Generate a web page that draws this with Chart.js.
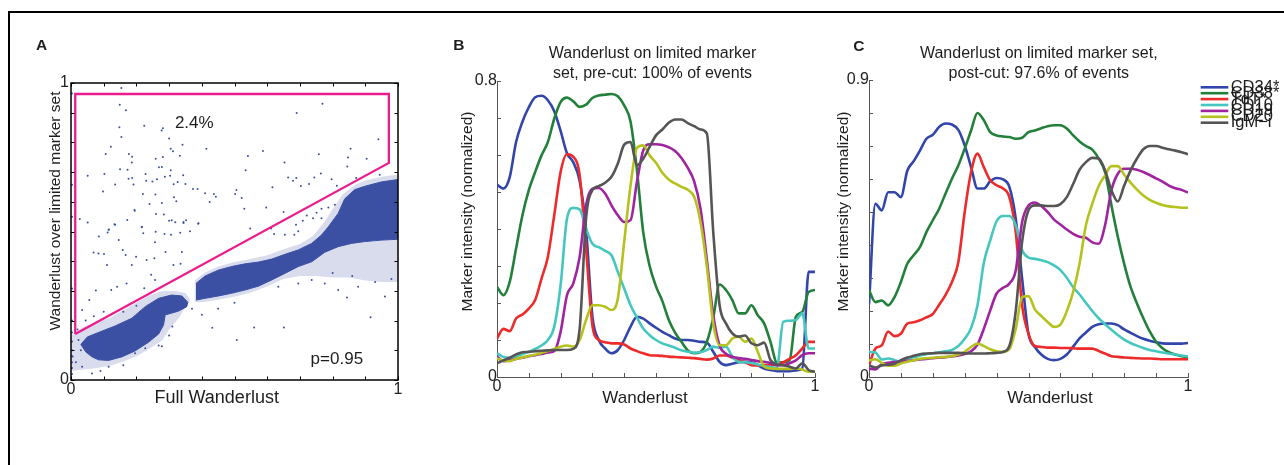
<!DOCTYPE html>
<html>
<head>
<meta charset="utf-8">
<title>Wanderlust on a limited marker set</title>
<script src="https://cdn.jsdelivr.net/npm/chart.js@4.4.1/dist/chart.umd.min.js"></script>
<style>
  html, body { margin: 0; padding: 0; background: #fff; overflow: hidden; }
  body { width: 1284px; height: 465px; position: relative; }
  #frame { position: absolute; left: 8px; top: 11px; width: 1400px; height: 600px;
           border-top: 2px solid #000; border-left: 2px solid #000; }
  canvas { position: absolute; top: 0; }
</style>
</head>
<body>
<div id="frame"></div>
<canvas id="panelA" width="430" height="420" style="left:0px"></canvas>
<canvas id="panelB" width="400" height="420" style="left:440px"></canvas>
<canvas id="panelC" width="454" height="420" style="left:830px"></canvas>
<script>
const FONT = '"Liberation Sans", Arial, Helvetica, sans-serif';
Chart.defaults.font.family = FONT;
Chart.defaults.font.size = 16;
Chart.defaults.color = '#222';

// ---- panel A: full vs limited-marker wanderlust ----
const gate = [[0.013,0.155],[0.013,0.963],[0.972,0.963],[0.972,0.731],[0.013,0.155]];

const sparseDots = [
  [0.154,0.983],[0.149,0.927],[0.168,0.908],[0.224,0.856],[0.148,0.851],[0.281,0.848],[0.277,0.84],
  [0.154,0.818],[0.30,0.813],[0.122,0.785],[0.341,0.792],[0.414,0.779],[0.305,0.779],[0.312,0.77],
  [0.106,0.761],[0.177,0.761],[0.187,0.752],[0.259,0.745],[0.333,0.755],[0.281,0.751],[0.186,0.732],
  [0.15,0.71],[0.173,0.708],[0.269,0.716],[0.278,0.717],[0.305,0.706],[0.051,0.688],[0.102,0.694],
  [0.228,0.694],[0.287,0.684],[0.303,0.688],[0.343,0.689],[0.176,0.678],[0.187,0.68],[0.23,0.671],
  [0.249,0.668],[0.263,0.676],[0.191,0.658],[0.135,0.658],[0.314,0.659],[0.326,0.667],[0.35,0.66],
  [0.098,0.635],[0.22,0.626],[0.258,0.625],[0.315,0.615],[0.373,0.643],[0.387,0.643],[0.41,0.629],
  [0.437,0.626],[0.443,0.617],[0.424,0.599],[0.24,0.593],[0.278,0.596],[0.322,0.602],[0.194,0.572],
  [0.26,0.559],[0.284,0.557],[0.30,0.536],[0.319,0.531],[0.344,0.529],[0.352,0.538],[0.39,0.528],
  [0.172,0.539],[0.135,0.523],[0.027,0.542],[0.051,0.53],[0.115,0.506],[0.112,0.497],[0.216,0.514],
  [0.259,0.499],[0.306,0.489],[0.334,0.496],[0.364,0.501],
  [0.69,0.899],[0.769,0.93],[0.94,0.811],[0.587,0.771],[0.541,0.754],[0.534,0.706],[0.653,0.732],
  [0.758,0.76],[0.855,0.779],[0.847,0.749],[0.904,0.745],[0.845,0.719],[0.764,0.695],[0.664,0.682],
  [0.689,0.68],[0.679,0.671],[0.744,0.682],[0.797,0.676],[0.872,0.68],[0.944,0.691],[0.616,0.649],
  [0.703,0.653],[0.728,0.66],[0.813,0.654],[0.502,0.626],[0.506,0.64],[0.522,0.613],[0.53,0.577],
  [0.597,0.581],[0.65,0.566],[0.721,0.554],[0.751,0.563],[0.766,0.577],[0.787,0.581],[0.807,0.59],
  [0.766,0.545],[0.74,0.545],[0.709,0.536],[0.688,0.523],[0.612,0.51],[0.621,0.492],[0.548,0.51],
  [0.654,0.489],[0.683,0.489],[0.695,0.501],
  [0.133,0.524],[0.085,0.483],[0.116,0.507],[0.195,0.57],[0.217,0.516],[0.221,0.494],[0.286,0.492],
  [0.308,0.538],[0.344,0.532],[0.389,0.526],[0.257,0.464],[0.289,0.431],[0.339,0.431],[0.069,0.429],
  [0.084,0.426],[0.101,0.424],[0.146,0.471],[0.158,0.438],[0.167,0.421],[0.199,0.415],[0.231,0.404],
  [0.255,0.41],[0.313,0.387],[0.335,0.391],[0.186,0.387],[0.11,0.387],[0.076,0.301],[0.056,0.269],
  [0.034,0.236],[0.245,0.354],[0.257,0.337],[0.224,0.309],[0.17,0.325],[0.141,0.314],[0.123,0.303],
  [0.432,0.176],[0.507,0.135],[0.56,0.177],[0.651,0.177],[0.844,0.278],[0.916,0.211],[0.023,0.135],
  [0.005,0.079],[0.034,0.045],[0.064,0.022],[0.115,0.045],[0.196,0.09],[0.227,0.107],[0.268,0.116],
  [0.278,0.114],
  [0.003,0.965],[0.003,0.657],[0.003,0.55],[0.003,0.308],[0.003,0.2],[0.003,0.16],[0.003,0.13],
  [0.003,0.1],[0.003,0.08],[0.003,0.06],[0.003,0.04],[0.003,0.02],
  [0.695,0.325],[0.776,0.325],[0.817,0.303],[0.878,0.314],[0.736,0.337],[0.634,0.314],[0.96,0.281],
  [0.6,0.35],[0.45,0.24],[0.5,0.26],[0.4,0.22],[0.37,0.24],
  [0.02,0.17],[0.045,0.2],[0.07,0.215],[0.1,0.23],[0.03,0.1],[0.015,0.06],[0.09,0.03],[0.16,0.05],
  [0.3,0.15],[0.31,0.18],[0.2,0.25],[0.16,0.23],[0.8,0.36],[0.86,0.35],[0.93,0.33],[0.98,0.34]
];

// dense clouds: outline of the solid part and of the looser halo round it
const earlyCoreTop = [[0.03,0.12],[0.05,0.145],[0.084,0.16],[0.135,0.182],[0.186,0.208],[0.227,0.247],[0.268,0.275],[0.308,0.286],[0.339,0.283],[0.357,0.262]];
const earlyCoreBottom = [[0.03,0.12],[0.045,0.095],[0.064,0.078],[0.084,0.068],[0.115,0.066],[0.156,0.078],[0.196,0.098],[0.237,0.127],[0.268,0.155],[0.283,0.185],[0.288,0.219],[0.329,0.232],[0.354,0.247],[0.357,0.262]];
const lateCoreTop = [[0.382,0.325],[0.41,0.35],[0.451,0.37],[0.491,0.382],[0.532,0.391],[0.573,0.397],[0.614,0.407],[0.654,0.423],[0.695,0.438],[0.736,0.46],[0.766,0.488],[0.787,0.516],[0.817,0.561],[0.837,0.61],[0.868,0.641],[0.898,0.652],[0.949,0.667],[1.0,0.675]];
const lateCoreBottom = [[0.382,0.269],[0.41,0.275],[0.451,0.283],[0.491,0.292],[0.532,0.303],[0.573,0.316],[0.614,0.337],[0.654,0.359],[0.695,0.382],[0.736,0.398],[0.776,0.43],[0.817,0.449],[0.858,0.46],[0.898,0.466],[0.949,0.471],[1.0,0.474]];
const earlyHaloTop = [[0.0,0.15],[0.04,0.18],[0.08,0.195],[0.12,0.21],[0.16,0.235],[0.2,0.26],[0.24,0.285],[0.28,0.3],[0.32,0.3],[0.35,0.293],[0.365,0.27]];
const earlyHaloBottom = [[0.0,0.03],[0.04,0.035],[0.08,0.04],[0.12,0.048],[0.16,0.062],[0.2,0.08],[0.24,0.105],[0.28,0.135],[0.3,0.17],[0.33,0.21],[0.365,0.27]];
const lateHaloTop = [[0.378,0.335],[0.41,0.362],[0.45,0.382],[0.5,0.397],[0.55,0.407],[0.6,0.42],[0.65,0.44],[0.7,0.458],[0.74,0.485],[0.77,0.525],[0.8,0.575],[0.83,0.625],[0.87,0.658],[0.9,0.672],[0.95,0.684],[1.0,0.692]];
const lateHaloBottom = [[0.378,0.262],[0.4,0.262],[0.45,0.27],[0.5,0.28],[0.55,0.295],[0.6,0.315],[0.65,0.34],[0.7,0.35],[0.75,0.35],[0.8,0.345],[0.85,0.345],[0.9,0.335],[0.95,0.33],[1.0,0.33]];

// ---- panels B and C: marker trends along wanderlust ----
const wx = [0,0.02,0.04,0.06,0.08,0.1,0.12,0.14,0.16,0.18,0.2,0.22,0.24,0.26,0.28,0.3,0.32,0.34,0.36,0.38,
  0.4,0.42,0.44,0.46,0.48,0.5,0.52,0.54,0.56,0.58,0.6,0.62,0.64,0.66,0.68,0.7,0.72,0.74,0.76,0.78,
  0.8,0.82,0.84,0.86,0.88,0.9,0.92,0.94,0.96,0.98,1];

const markers = ['CD34*', 'CD38*', 'TdT*', 'CD10', 'CD19', 'CD20', 'IgM\u2212i'];
const markerColors = ['#3145ab', '#23803a', '#ee2a2a', '#45c7bf', '#a023a0', '#b5c21e', '#555555'];

const preCD34 = [0.52,0.509,0.54,0.635,0.69,0.729,0.756,0.76,0.748,0.718,0.665,0.605,0.58,0.53,0.40,0.163,0.10,0.077,0.064,0.073,0.10,0.136,0.163,0.158,0.145,0.133,0.122,0.113,0.104,0.10,0.10,0.098,0.095,0.093,0.068,0.041,0.032,0.036,0.04,0.041,0.04,0.032,0.023,0.019,0.016,0.016,0.016,0.018,0.023,0.284,0.284];
const preCD38 = [0.244,0.221,0.257,0.347,0.437,0.505,0.554,0.599,0.635,0.698,0.743,0.755,0.745,0.73,0.736,0.754,0.761,0.763,0.765,0.759,0.734,0.69,0.56,0.39,0.30,0.245,0.205,0.155,0.12,0.095,0.072,0.064,0.068,0.095,0.16,0.25,0.235,0.208,0.172,0.172,0.194,0.167,0.145,0.095,0.04,0.04,0.045,0.163,0.176,0.23,0.235];
const preTdT = [0.104,0.13,0.124,0.158,0.169,0.185,0.208,0.266,0.325,0.437,0.554,0.602,0.595,0.545,0.347,0.14,0.10,0.094,0.091,0.091,0.088,0.077,0.07,0.064,0.059,0.058,0.057,0.055,0.054,0.053,0.052,0.051,0.049,0.047,0.05,0.058,0.058,0.052,0.046,0.04,0.032,0.031,0.032,0.032,0.034,0.04,0.049,0.059,0.077,0.095,0.095];
const preCD10 = [0.064,0.054,0.052,0.055,0.062,0.068,0.076,0.085,0.10,0.136,0.248,0.428,0.457,0.453,0.401,0.36,0.351,0.341,0.329,0.284,0.239,0.194,0.161,0.131,0.113,0.10,0.091,0.085,0.079,0.072,0.068,0.066,0.067,0.073,0.082,0.079,0.082,0.055,0.041,0.04,0.038,0.034,0.03,0.027,0.025,0.149,0.152,0.154,0.172,0.077,0.077];
const preCD19 = [0.055,0.043,0.045,0.049,0.052,0.056,0.059,0.062,0.066,0.07,0.122,0.221,0.253,0.325,0.464,0.509,0.511,0.496,0.464,0.437,0.419,0.424,0.527,0.613,0.629,0.629,0.627,0.621,0.611,0.592,0.565,0.529,0.455,0.316,0.167,0.085,0.063,0.055,0.051,0.049,0.046,0.043,0.041,0.038,0.032,0.032,0.037,0.045,0.059,0.064,0.064];
const preCD20 = [0.05,0.044,0.043,0.049,0.053,0.057,0.06,0.065,0.07,0.076,0.082,0.085,0.082,0.10,0.154,0.194,0.194,0.19,0.181,0.212,0.365,0.518,0.619,0.626,0.599,0.579,0.552,0.534,0.523,0.514,0.506,0.487,0.419,0.298,0.145,0.086,0.086,0.104,0.109,0.095,0.104,0.068,0.028,0.023,0.022,0.022,0.022,0.023,0.02,0.014,0.014];
const preIgM = [0.037,0.045,0.052,0.061,0.067,0.068,0.07,0.071,0.072,0.073,0.073,0.073,0.076,0.131,0.428,0.505,0.516,0.525,0.541,0.577,0.628,0.635,0.572,0.59,0.622,0.653,0.669,0.687,0.696,0.696,0.686,0.678,0.669,0.658,0.392,0.194,0.145,0.118,0.109,0.112,0.091,0.086,0.093,0.046,0.034,0.032,0.028,0.023,0.037,0.019,0.014];

const postCD34 = [0.22,0.525,0.505,0.56,0.56,0.545,0.625,0.654,0.687,0.722,0.734,0.758,0.768,0.765,0.749,0.702,0.636,0.571,0.571,0.593,0.603,0.599,0.576,0.48,0.298,0.13,0.091,0.068,0.055,0.051,0.055,0.068,0.092,0.117,0.135,0.152,0.16,0.162,0.162,0.157,0.144,0.134,0.124,0.116,0.11,0.105,0.102,0.101,0.101,0.101,0.103];
const postCD38 = [0.263,0.227,0.232,0.217,0.242,0.288,0.343,0.369,0.394,0.439,0.475,0.51,0.556,0.601,0.641,0.692,0.747,0.80,0.778,0.742,0.732,0.729,0.727,0.722,0.725,0.742,0.747,0.754,0.76,0.763,0.763,0.753,0.732,0.714,0.70,0.689,0.662,0.621,0.52,0.425,0.343,0.273,0.223,0.178,0.138,0.107,0.087,0.075,0.068,0.063,0.061];
const postTdT = [0.035,0.086,0.096,0.138,0.124,0.131,0.162,0.166,0.172,0.181,0.191,0.219,0.249,0.288,0.348,0.50,0.621,0.677,0.636,0.596,0.581,0.571,0.545,0.439,0.217,0.131,0.094,0.091,0.089,0.089,0.088,0.088,0.087,0.086,0.086,0.086,0.079,0.071,0.063,0.061,0.059,0.058,0.057,0.056,0.056,0.055,0.054,0.054,0.054,0.054,0.054];
const postCD10 = [0.076,0.074,0.053,0.056,0.051,0.045,0.056,0.06,0.065,0.069,0.072,0.075,0.078,0.082,0.094,0.116,0.148,0.217,0.346,0.414,0.472,0.488,0.488,0.46,0.384,0.362,0.358,0.354,0.348,0.338,0.324,0.301,0.272,0.25,0.225,0.20,0.178,0.16,0.143,0.127,0.113,0.103,0.095,0.088,0.082,0.078,0.074,0.071,0.068,0.065,0.062];
const postCD19 = [0.025,0.023,0.039,0.043,0.045,0.047,0.049,0.051,0.053,0.055,0.057,0.059,0.06,0.062,0.065,0.07,0.078,0.098,0.146,0.202,0.253,0.27,0.283,0.323,0.47,0.52,0.529,0.518,0.50,0.477,0.462,0.447,0.434,0.425,0.422,0.408,0.404,0.46,0.566,0.616,0.631,0.631,0.628,0.621,0.612,0.602,0.592,0.58,0.572,0.567,0.559];
const postCD20 = [0.05,0.054,0.043,0.034,0.034,0.041,0.046,0.051,0.055,0.057,0.058,0.06,0.061,0.063,0.068,0.076,0.091,0.101,0.094,0.084,0.078,0.076,0.084,0.146,0.242,0.245,0.205,0.185,0.167,0.152,0.159,0.199,0.258,0.343,0.46,0.525,0.579,0.611,0.639,0.639,0.613,0.589,0.568,0.55,0.537,0.528,0.521,0.517,0.515,0.513,0.513];
const postIgM = [0.035,0.029,0.035,0.037,0.04,0.051,0.059,0.064,0.069,0.071,0.072,0.073,0.073,0.073,0.073,0.072,0.071,0.071,0.071,0.072,0.073,0.076,0.094,0.20,0.41,0.505,0.52,0.52,0.518,0.518,0.524,0.545,0.585,0.628,0.651,0.664,0.662,0.626,0.566,0.532,0.58,0.626,0.662,0.69,0.70,0.70,0.695,0.69,0.686,0.681,0.675];

const BLUE = 'rgb(59,80,163)';
const HALO = 'rgba(59,80,163,0.2)';
const PINK = '#ec1c8c';

const pts = arr => arr.map(([x, y]) => ({x, y}));

// inward ticks, box, free text, and the squeezed legend of panel C
function decor(cfg) {
  return {
    id: 'decor',
    afterDraw(chart) {
      const {ctx, chartArea: a, scales: {x, y}} = chart;
      ctx.save();
      ctx.strokeStyle = cfg.axisColor;
      if (cfg.box) {
        ctx.lineWidth = 1.5;
        ctx.strokeRect(a.left, a.top, a.right - a.left, a.bottom - a.top);
      }
      ctx.lineWidth = 1;
      ctx.beginPath();
      for (const t of x.ticks) {
        const p = Math.round(x.getPixelForValue(t.value)) + 0.5;
        ctx.moveTo(p, a.bottom); ctx.lineTo(p, a.bottom - cfg.tick);
        if (cfg.box) { ctx.moveTo(p, a.top); ctx.lineTo(p, a.top + cfg.tick); }
      }
      for (const t of y.ticks) {
        const p = Math.round(y.getPixelForValue(t.value)) + 0.5;
        ctx.moveTo(a.left, p); ctx.lineTo(a.left + cfg.tick, p);
        if (cfg.box) { ctx.moveTo(a.right, p); ctx.lineTo(a.right - cfg.tick, p); }
      }
      ctx.stroke();

      ctx.fillStyle = '#1e1e1e';
      ctx.textBaseline = 'alphabetic';
      for (const t of cfg.texts) {
        ctx.font = (t.bold ? 'bold ' : '') + t.size + 'px ' + FONT;
        ctx.textAlign = t.align || 'center';
        ctx.save();
        ctx.translate(t.x, t.y);
        if (t.rot) ctx.rotate(-Math.PI / 2);
        ctx.fillText(t.text, 0, 0);
        ctx.restore();
      }
      for (const n of cfg.notes || []) {
        ctx.font = n.size + 'px ' + FONT;
        ctx.textAlign = 'center';
        ctx.fillText(n.text, x.getPixelForValue(n.x), y.getPixelForValue(n.y));
      }
      if (cfg.legend) {
        const L = cfg.legend;
        ctx.font = L.size + 'px ' + FONT;
        ctx.textAlign = 'left';
        ctx.textBaseline = 'middle';
        chart.data.datasets.forEach((d, i) => {
          const yy = L.y + i * L.step;
          ctx.strokeStyle = d.borderColor;
          ctx.lineWidth = 2.6;
          ctx.beginPath(); ctx.moveTo(L.x, yy); ctx.lineTo(L.x + L.len, yy); ctx.stroke();
          ctx.fillText(d.label, L.x + L.len + L.gap, yy);
        });
      }
      ctx.restore();
    }
  };
}

function axes(ymax, yWidth, yPad, box, color) {
  const edge = (v, max) => (Math.abs(v) < 1e-9 || Math.abs(v - max) < 1e-9) ? String(+v.toFixed(1)) : '';
  return {
    x: {
      type: 'linear', min: 0, max: 1,
      grid: {display: false, drawTicks: false},
      border: {display: !box, color: color, width: 1},
      ticks: {stepSize: 0.1, autoSkip: false, maxRotation: 0, padding: 0, callback: v => edge(v, 1)},
      afterFit: s => { s.height = 25; }
    },
    y: {
      type: 'linear', min: 0, max: ymax,
      grid: {display: false, drawTicks: false},
      border: {display: !box, color: color, width: 1},
      ticks: {stepSize: 0.1, autoSkip: false, padding: yPad, callback: v => edge(v, ymax)},
      afterFit: s => { s.width = yWidth; }
    }
  };
}

const base = {
  responsive: false,
  animation: false,
  devicePixelRatio: 1,
  plugins: {legend: {display: false}, tooltip: {enabled: false}}
};

function lineSets(series) {
  return series.map((ys, i) => ({
    label: markers[i],
    data: ys.map((v, k) => ({x: wx[k], y: v})),
    borderColor: markerColors[i],
    borderWidth: 2.6,
    pointRadius: 0,
    fill: false,
    cubicInterpolationMode: 'monotone',
    order: series.length - i
  }));
}

const edgeLine = (arr, w) => ({data: pts(arr), borderColor: BLUE, borderWidth: w, pointRadius: 0, fill: false});
const fillTo = (arr, color, w) => ({data: pts(arr), borderColor: color, borderWidth: w, pointRadius: 0, fill: '-1', backgroundColor: color});

new Chart(document.getElementById('panelA'), {
  type: 'line',
  data: {
    datasets: [
      {data: pts(gate), borderColor: PINK, borderWidth: 2.3, pointRadius: 0, fill: false},
      {data: pts(sparseDots), showLine: false, pointRadius: 1, pointBorderWidth: 0, pointBackgroundColor: BLUE},
      edgeLine(earlyCoreBottom, 1), fillTo(earlyCoreTop, BLUE, 1),
      edgeLine(lateCoreBottom, 1), fillTo(lateCoreTop, BLUE, 1),
      edgeLine(earlyHaloBottom, 0), fillTo(earlyHaloTop, HALO, 0),
      edgeLine(lateHaloBottom, 0), fillTo(lateHaloTop, HALO, 0)
    ]
  },
  options: Object.assign({}, base, {
    layout: {padding: {left: 0, top: 83, right: 32, bottom: 15}},
    scales: axes(1, 71, 2, true, '#000')
  }),
  plugins: [decor({
    box: true, tick: 3.5, axisColor: '#000',
    texts: [
      {text: 'A', x: 36, y: 50, size: 15.5, bold: true, align: 'left'},
      {text: 'Full Wanderlust', x: 216.7, y: 402.7, size: 18},
      {text: 'Wanderlust over limited marker set', x: 60, y: 211, size: 15.5, rot: true}
    ],
    notes: [
      {text: '2.4%', x: 0.377, y: 0.848, size: 17},
      {text: 'p=0.95', x: 0.813, y: 0.053, size: 17}
    ]
  })]
});

new Chart(document.getElementById('panelB'), {
  type: 'line',
  data: {datasets: lineSets([preCD34, preCD38, preTdT, preCD10, preCD19, preCD20, preIgM])},
  options: Object.assign({}, base, {
    layout: {padding: {left: 0, top: 81, right: 25, bottom: 18}},
    scales: axes(0.8, 57, 0, false, '#555')
  }),
  plugins: [decor({
    box: false, tick: 4, axisColor: '#555',
    texts: [
      {text: 'B', x: 13.3, y: 50, size: 15.5, bold: true, align: 'left'},
      {text: 'Wanderlust on limited marker', x: 212.5, y: 58.3, size: 16},
      {text: 'set, pre-cut: 100% of events', x: 212.5, y: 77.7, size: 16},
      {text: 'Wanderlust', x: 205, y: 402.7, size: 17},
      {text: 'Marker intensity (normalized)', x: 32, y: 211.5, size: 15.5, rot: true}
    ]
  })]
});

new Chart(document.getElementById('panelC'), {
  type: 'line',
  data: {datasets: lineSets([postCD34, postCD38, postTdT, postCD10, postCD19, postCD20, postIgM])},
  options: Object.assign({}, base, {
    layout: {padding: {left: 0, top: 80, right: 96, bottom: 18}},
    scales: axes(0.9, 39, 0, false, '#555')
  }),
  plugins: [decor({
    box: false, tick: 4, axisColor: '#555',
    texts: [
      {text: 'C', x: 23.3, y: 50.7, size: 15.5, bold: true, align: 'left'},
      {text: 'Wanderlust on limited marker set,', x: 208.8, y: 58.3, size: 16},
      {text: 'post-cut: 97.6% of events', x: 208.8, y: 77.7, size: 16},
      {text: 'Wanderlust', x: 220, y: 403, size: 17},
      {text: 'Marker intensity (normalized)', x: 17.5, y: 211.5, size: 15.5, rot: true}
    ],
    legend: {x: 370.7, y: 87.3, step: 5.9, len: 27.6, gap: 2.4, size: 16.5}
  })]
});
</script>
</body>
</html>
